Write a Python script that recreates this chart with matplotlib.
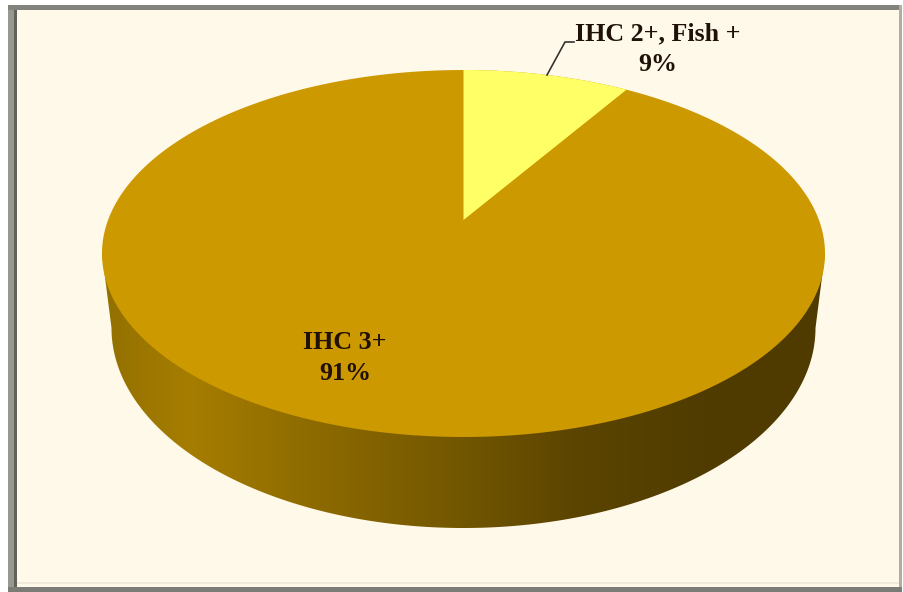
import numpy as np
import matplotlib
matplotlib.use('Agg')
import matplotlib.pyplot as plt
from matplotlib.colors import LinearSegmentedColormap
from matplotlib.patches import Polygon, Rectangle

labels = ['IHC 2+, Fish +', 'IHC 3+']
shares = [9, 91]
colors = ['#FFFF66', '#CC9900']

W, H = 904, 592
cx, cy = 463.5, 253.5   # centre of the top ellipse, pixels
rx, ry = 361.5, 183.5
bottom_cy, bottom_rx, bottom_ry = 328, 352, 200   # lower rim is not the same ellipse
apex_y = 220            # slices meet above the ellipse centre in the original
bg = '#FFF9E9'

fig = plt.figure(figsize=(W / 100, H / 100), dpi=100, facecolor='white')
ax = fig.add_axes([0, 0, 1, 1])
ax.set_xlim(0, W)
ax.set_ylim(H, 0)
ax.axis('off')


def band(x0, y0, x1, y1, color):
    ax.add_patch(Rectangle((x0, y0), x1 - x0, y1 - y0, fc=color, ec='none', zorder=1))


## Frame ##
band(8, 5, 14, 592, '#98988f')
band(14, 8, 17, 590, '#62625c')
band(8, 5, 900, 10, '#83837e')
band(899, 5, 902, 592, '#b5aca0')
band(8, 587, 902, 592, '#7c7c76')
band(17, 10, 899, 587, bg)
band(17, 582, 899, 584, '#EFEBD8')

t = np.linspace(0, 2 * np.pi, 721)
ex = cx + rx * np.sin(t)
ey = cy - ry * np.cos(t)

## Side of the pie, gradient clipped to the extruded outline ##
low = np.linspace(np.pi / 2, 3 * np.pi / 2, 361)
side_x = np.r_[cx + rx, cx + bottom_rx * np.sin(low), cx - rx]
side_y = np.r_[cy, bottom_cy - bottom_ry * np.cos(low), cy]
side = Polygon(np.c_[side_x, side_y], closed=True, fc='none', ec='none')
ax.add_patch(side)
cmap = LinearSegmentedColormap.from_list('side', [
    (0.00, '#927000'), (0.12, '#a67d00'), (0.28, '#8f6c00'), (0.47, '#765900'),
    (0.65, '#5c4500'), (0.85, '#4f3b00'), (1.00, '#503c00')])
img = ax.imshow(np.linspace(0, 1, 512)[None, :], cmap=cmap, aspect='auto', zorder=2,
                extent=(cx - rx, cx + rx, 540, cy - 1))
img.set_clip_path(side)
ax.set_xlim(0, W)
ax.set_ylim(H, 0)

## Top face ##
ax.fill(ex, ey, color=colors[1], lw=0, zorder=3)

# find where the ray from the apex (true angle, flattened) meets the ellipse
ang = np.arange(0, 90, 0.05)
ray_angle = np.arctan2(rx * np.sin(np.radians(ang)), (apex_y - cy + ry * np.cos(np.radians(ang))) * rx / ry)
end = ang[np.argmin(np.abs(ray_angle - 2 * np.pi * shares[0] / sum(shares)))]
arc = np.radians(np.linspace(0, end, 120))
wedge_x = np.r_[cx, cx + rx * np.sin(arc)]
wedge_y = np.r_[apex_y, cy - ry * np.cos(arc)]
ax.fill(wedge_x, wedge_y, color=colors[0], lw=0, zorder=4)

## Labels ##
font = dict(family='Liberation Serif', fontweight='bold', fontsize=18.7, color='#1f1008',
            ha='center', va='center', linespacing=1.45, zorder=6)
ax.text(658, 49, f'{labels[0]}\n{shares[0]}%', **font)
ax.text(345, 358, f'{labels[1]}\n{shares[1]}%', **font)
ax.plot([547, 565, 574], [75, 42, 42], color='#333333', lw=1.2, zorder=5)

fig.savefig('out.png', dpi=100, facecolor='white')
